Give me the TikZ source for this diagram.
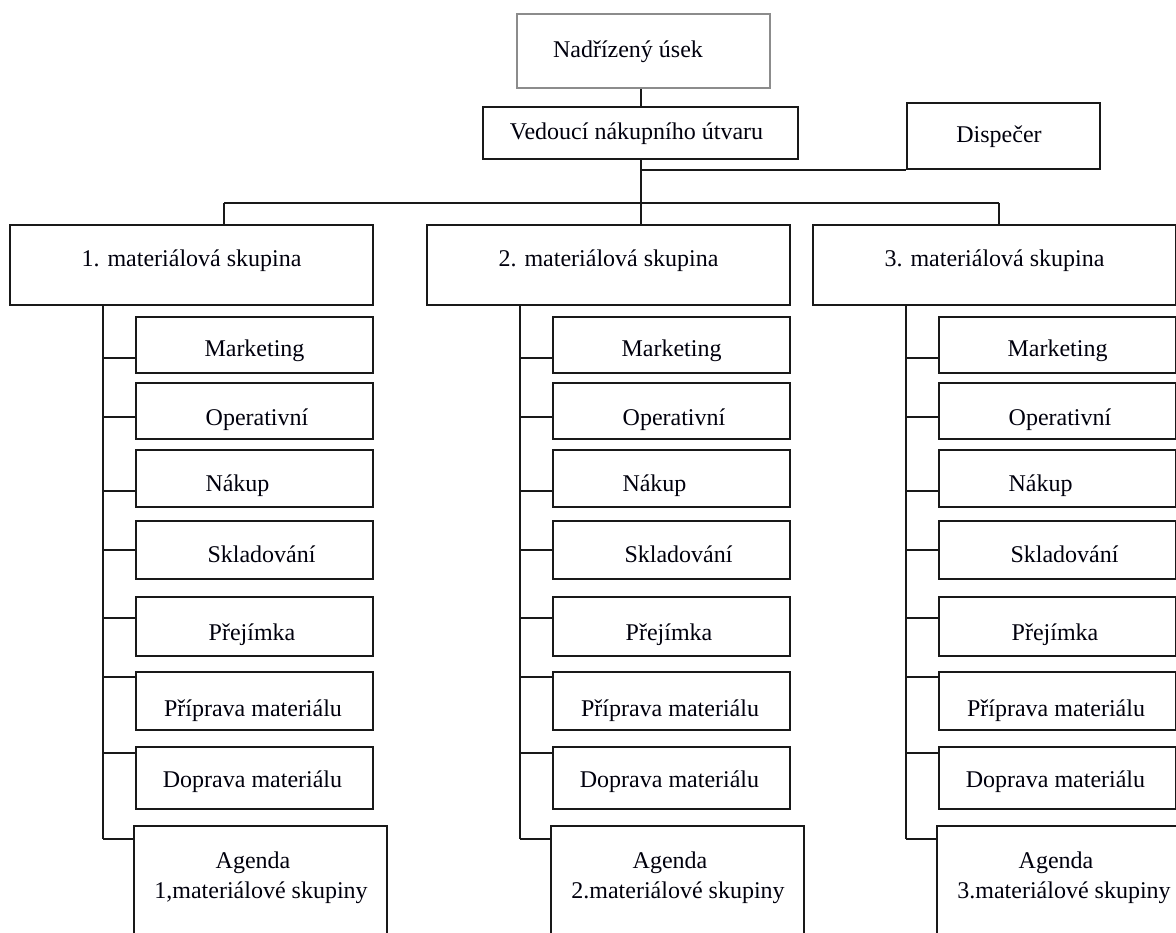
\documentclass[tikz,border=0pt]{standalone}
\usepackage{fontspec}
\setmainfont{Liberation Serif}
\begin{document}
\begin{tikzpicture}[x=1pt,y=-1pt,
  wire/.style={draw=black!90, line width=1.9pt},
  frame/.style={draw=black!90, line width=1.9pt, rectangle, inner sep=0pt},
  topframe/.style={draw=black!45, line width=1.9pt, rectangle, inner sep=0pt},
  grp/.style={frame, minimum width=363, minimum height=80},
  sub/.style={frame, minimum width=237},
  lbl/.style={anchor=base, inner sep=0pt, text=black!95!blue,
              font=\fontsize{24}{29}\selectfont}]
\useasboundingbox (0,0) rectangle (1176,933);
\clip (0,0) rectangle (1176,933);
\fill[white] (0,0) rectangle (1176,933);

% top of the hierarchy
\node[topframe, minimum width=253, minimum height=74] (nad) at (643.5,51) {};
\node[lbl] (nadt) at (628,58) {Nadřízený úsek};
\node[frame, minimum width=315, minimum height=52] (ved) at (640.5,133) {};
\node[lbl] (vedt) at (636.5,140) {Vedoucí nákupního útvaru};
\node[frame, minimum width=193, minimum height=66] (dis) at (1003.5,136) {};
\node[lbl] (dist) at (999,143) {Dispečer};

% trunk and distribution bus
\coordinate (trunk) at (641,203);
\coordinate (busl) at (224,203);
\coordinate (busr) at (999,203);
\draw[wire] (nad.south -| trunk) -- (ved.north -| trunk);
\draw[wire] (ved.south -| trunk) -- (trunk);
\draw[wire] (trunk |- dis.south) -- (dis.south west);
\draw[wire] (busl) -- (busr);

% three material groups with their departments
\foreach \c/\dx in {1/0,2/417,3/803}{
  \node[grp] (g\c) at (191.5+\dx,265) {};
  \node[lbl] (gt\c) at (191.5+\dx,267) {\c. materiálová skupina};
  \foreach \r/\cy/\h/\tx/\bl/\ky/\txt in {
      1/345/56/0/357/358/Marketing,
      2/411/56/2.5/425/417/Operativní,
      3/478.5/57/-17/491/491/Nákup,
      4/550/58/7/562/550/Skladování,
      5/626.5/59/-2.5/640/618/Přejímka,
      6/701/58/-1.5/716/677/Příprava materiálu,
      7/778/62/-2/787/753/Doprava materiálu}{
    \node[sub, minimum height=\h] (b\c-\r) at (254.5+\dx,\cy) {};
    \node[lbl] (t\c-\r) at (254.5+\dx+\tx,\bl) {\txt};
    \coordinate (k\c-\r) at (103+\dx,\ky);
    \draw[wire] (k\c-\r) -- (k\c-\r -| b\c-\r.west);
  }
  \node[frame, minimum width=253, minimum height=154] (b\c-8) at (260.5+\dx,903) {};
  \node[lbl] (ta\c) at (253+\dx,868) {Agenda};
  \coordinate (k\c-8) at (103+\dx,839);
  \draw[wire] (k\c-8) -- (k\c-8 -| b\c-8.west);
  \draw[wire] (g\c.south -| k\c-8) -- (k\c-8);
}
\node[lbl] (tb1) at (261,898) {1,materiálové skupiny};
\node[lbl] (tb2) at (678,898) {2.materiálové skupiny};
\node[lbl] (tb3) at (1064,898) {3.materiálové skupiny};

% drops from the bus to the groups
\draw[wire] (busl) -- (busl |- g1.north);
\draw[wire] (trunk) -- (trunk |- g2.north);
\draw[wire] (busr) -- (busr |- g3.north);
\end{tikzpicture}
\end{document}
